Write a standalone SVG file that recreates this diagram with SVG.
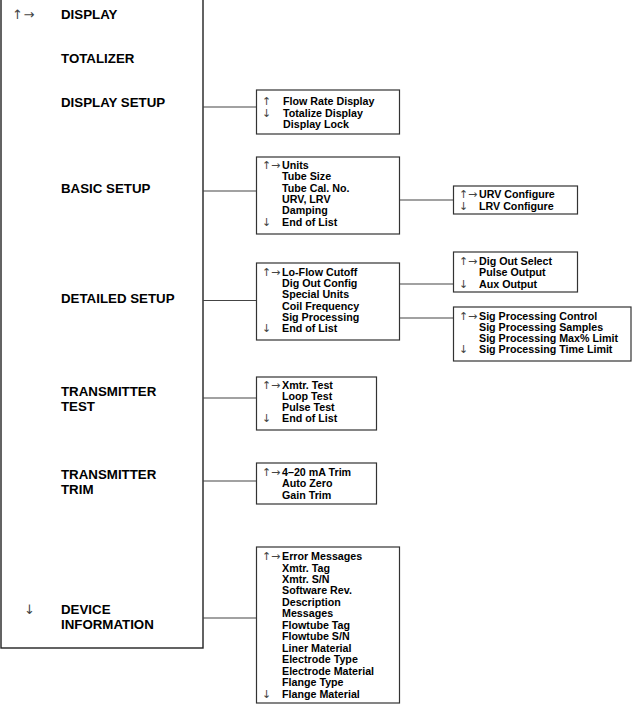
<svg xmlns="http://www.w3.org/2000/svg" width="632" height="704" viewBox="0 0 632 704">
<style>
.bx{fill:#fff;stroke:#333;stroke-width:1.2}
.main{font-family:"Liberation Sans",Arial,sans-serif;font-weight:bold;font-size:13.3px;fill:#000}
.it{font-family:"Liberation Sans",Arial,sans-serif;font-weight:bold;font-size:10.7px;fill:#000}
.ar{font-family:"DejaVu Sans",sans-serif;font-size:13px;fill:#444}
.sa{font-family:"DejaVu Sans",sans-serif;font-size:11px;fill:#444}
.cn{stroke:#444;stroke-width:1.2;fill:none}
</style>
<rect width="632" height="704" fill="#fff"/>
<g id="main-menu">
<rect x="1" y="-3" width="202" height="651" fill="#fff" stroke="#222" stroke-width="1.4"/>
<text class="ar" x="12" y="18.5">↑</text>
<text class="ar" x="23.5" y="18.5">→</text>
<text class="main" x="61" y="18.5">DISPLAY</text>
<text class="main" x="61" y="63">TOTALIZER</text>
<text class="main" x="61" y="107">DISPLAY SETUP</text>
<text class="main" x="61" y="193">BASIC SETUP</text>
<text class="main" x="61" y="303">DETAILED SETUP</text>
<text class="main" x="61" y="396">TRANSMITTER</text>
<text class="main" x="61" y="410.5">TEST</text>
<text class="main" x="61" y="479">TRANSMITTER</text>
<text class="main" x="61" y="493.5">TRIM</text>
<text class="ar" x="24" y="614">↓</text>
<text class="main" x="61" y="614">DEVICE</text>
<text class="main" x="61" y="628.5">INFORMATION</text>
</g>
<g id="connectors">
<line class="cn" x1="203" y1="107" x2="256" y2="107"/>
<line class="cn" x1="203" y1="191" x2="256" y2="191"/>
<line class="cn" x1="400" y1="200" x2="453" y2="200"/>
<line class="cn" x1="203" y1="300.5" x2="256" y2="300.5"/>
<line class="cn" x1="400" y1="284" x2="453" y2="284"/>
<line class="cn" x1="400" y1="318" x2="453" y2="318"/>
<line class="cn" x1="203" y1="398" x2="256" y2="398"/>
<line class="cn" x1="203" y1="481" x2="256" y2="481"/>
<line class="cn" x1="203" y1="618" x2="256" y2="618"/>
</g>
<g id="display-setup">
<rect class="bx" x="256.5" y="90" width="143" height="44"/>
<text class="sa" x="262" y="105">↑</text>
<text class="sa" x="262" y="116.5">↓</text>
<text class="it" x="283" y="105">Flow Rate Display</text>
<text class="it" x="283" y="116.5">Totalize Display</text>
<text class="it" x="283" y="128">Display Lock</text>
</g>
<g id="basic-setup">
<rect class="bx" x="256.5" y="157" width="143" height="77"/>
<text class="sa" x="262" y="169">↑</text>
<text class="sa" x="271" y="169">→</text>
<text class="sa" x="262" y="225.5">↓</text>
<text class="it" x="282" y="169">Units</text>
<text class="it" x="282" y="180.3">Tube Size</text>
<text class="it" x="282" y="191.6">Tube Cal. No.</text>
<text class="it" x="282" y="202.9">URV, LRV</text>
<text class="it" x="282" y="214.2">Damping</text>
<text class="it" x="282" y="225.5">End of List</text>
</g>
<g id="urv-lrv">
<rect class="bx" x="453.5" y="186" width="124" height="28"/>
<text class="sa" x="459" y="198">↑</text>
<text class="sa" x="468" y="198">→</text>
<text class="sa" x="459" y="209.5">↓</text>
<text class="it" x="479" y="198">URV Configure</text>
<text class="it" x="479" y="209.5">LRV Configure</text>
</g>
<g id="detailed-setup">
<rect class="bx" x="256.5" y="263" width="143" height="77"/>
<text class="sa" x="262" y="276">↑</text>
<text class="sa" x="271" y="276">→</text>
<text class="sa" x="262" y="332">↓</text>
<text class="it" x="282" y="276">Lo-Flow Cutoff</text>
<text class="it" x="282" y="287.2">Dig Out Config</text>
<text class="it" x="282" y="298.4">Special Units</text>
<text class="it" x="282" y="309.6">Coil Frequency</text>
<text class="it" x="282" y="320.8">Sig Processing</text>
<text class="it" x="282" y="332">End of List</text>
</g>
<g id="dig-out-config">
<rect class="bx" x="453.5" y="252" width="124" height="40"/>
<text class="sa" x="459" y="265">↑</text>
<text class="sa" x="468" y="265">→</text>
<text class="sa" x="459" y="287.5">↓</text>
<text class="it" x="479" y="265">Dig Out Select</text>
<text class="it" x="479" y="276.3">Pulse Output</text>
<text class="it" x="479" y="287.5">Aux Output</text>
</g>
<g id="sig-processing">
<rect class="bx" x="453.5" y="307" width="177.5" height="54"/>
<text class="sa" x="459" y="320">↑</text>
<text class="sa" x="468" y="320">→</text>
<text class="sa" x="459" y="353">↓</text>
<text class="it" x="479" y="320">Sig Processing Control</text>
<text class="it" x="479" y="331">Sig Processing Samples</text>
<text class="it" x="479" y="342">Sig Processing Max% Limit</text>
<text class="it" x="479" y="353">Sig Processing Time Limit</text>
</g>
<g id="transmitter-test">
<rect class="bx" x="256.5" y="377" width="120" height="53"/>
<text class="sa" x="262" y="388.5">↑</text>
<text class="sa" x="271" y="388.5">→</text>
<text class="sa" x="262" y="421.5">↓</text>
<text class="it" x="282" y="388.5">Xmtr. Test</text>
<text class="it" x="282" y="399.5">Loop Test</text>
<text class="it" x="282" y="410.5">Pulse Test</text>
<text class="it" x="282" y="421.5">End of List</text>
</g>
<g id="transmitter-trim">
<rect class="bx" x="256.5" y="463" width="120" height="41"/>
<text class="sa" x="262" y="476">↑</text>
<text class="sa" x="271" y="476">→</text>
<text class="it" x="282" y="476">4–20 mA Trim</text>
<text class="it" x="282" y="487.3">Auto Zero</text>
<text class="it" x="282" y="498.5">Gain Trim</text>
</g>
<g id="device-information">
<rect class="bx" x="256.5" y="547" width="143" height="156"/>
<text class="sa" x="262" y="560">↑</text>
<text class="sa" x="271" y="560">→</text>
<text class="sa" x="262" y="697.5">↓</text>
<text class="it" x="282" y="560">Error Messages</text>
<text class="it" x="282" y="571.5">Xmtr. Tag</text>
<text class="it" x="282" y="582.9">Xmtr. S/N</text>
<text class="it" x="282" y="594.4">Software Rev.</text>
<text class="it" x="282" y="605.8">Description</text>
<text class="it" x="282" y="617.3">Messages</text>
<text class="it" x="282" y="628.8">Flowtube Tag</text>
<text class="it" x="282" y="640.2">Flowtube S/N</text>
<text class="it" x="282" y="651.7">Liner Material</text>
<text class="it" x="282" y="663.1">Electrode Type</text>
<text class="it" x="282" y="674.6">Electrode Material</text>
<text class="it" x="282" y="686">Flange Type</text>
<text class="it" x="282" y="697.5">Flange Material</text>
</g>
</svg>
